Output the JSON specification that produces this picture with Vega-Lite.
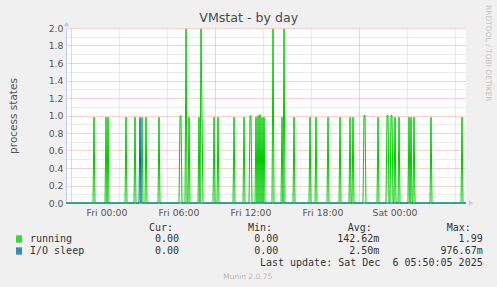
{
  "$schema": "https://vega.github.io/schema/vega-lite/v6.json",
  "width": 400,
  "height": 175,
  "autosize": "none",
  "padding": {"left": 66, "top": 28, "right": 31, "bottom": 84},
  "background": "#f0f0f0",
  "config": {"view": {"stroke": null, "fill": "#ffffff"}, "font": "DejaVu Sans", "line": {"strokeWidth": 1}},
  "data": {
    "values": [
      {"m": -205, "s": "running", "v": 0},
      {"m": -70, "s": "running", "v": 0},
      {"m": -65, "s": "running", "v": 0.98},
      {"m": -60, "s": "running", "v": 0},
      {"m": -10, "s": "running", "v": 0},
      {"m": -5, "s": "running", "v": 0.98},
      {"m": 0, "s": "running", "v": 0},
      {"m": 5, "s": "running", "v": 0.98},
      {"m": 10, "s": "running", "v": 0},
      {"m": 90, "s": "running", "v": 0},
      {"m": 95, "s": "running", "v": 0.98},
      {"m": 100, "s": "running", "v": 0},
      {"m": 135, "s": "running", "v": 0},
      {"m": 140, "s": "running", "v": 0.98},
      {"m": 145, "s": "running", "v": 0},
      {"m": 170, "s": "running", "v": 0},
      {"m": 175, "s": "running", "v": 0.98},
      {"m": 180, "s": "running", "v": 0},
      {"m": 190, "s": "running", "v": 0},
      {"m": 195, "s": "running", "v": 0.98},
      {"m": 200, "s": "running", "v": 0},
      {"m": 255, "s": "running", "v": 0},
      {"m": 260, "s": "running", "v": 0.98},
      {"m": 265, "s": "running", "v": 0},
      {"m": 360, "s": "running", "v": 0},
      {"m": 365, "s": "running", "v": 0.99},
      {"m": 370, "s": "running", "v": 1.0},
      {"m": 375, "s": "running", "v": 0},
      {"m": 390, "s": "running", "v": 0},
      {"m": 395, "s": "running", "v": 1.99},
      {"m": 400, "s": "running", "v": 0},
      {"m": 405, "s": "running", "v": 0},
      {"m": 410, "s": "running", "v": 0.98},
      {"m": 415, "s": "running", "v": 0},
      {"m": 455, "s": "running", "v": 0},
      {"m": 460, "s": "running", "v": 0.98},
      {"m": 465, "s": "running", "v": 0},
      {"m": 470, "s": "running", "v": 1.99},
      {"m": 475, "s": "running", "v": 1.0},
      {"m": 480, "s": "running", "v": 0},
      {"m": 530, "s": "running", "v": 0},
      {"m": 535, "s": "running", "v": 0.98},
      {"m": 540, "s": "running", "v": 0},
      {"m": 550, "s": "running", "v": 0},
      {"m": 555, "s": "running", "v": 0.98},
      {"m": 560, "s": "running", "v": 0},
      {"m": 630, "s": "running", "v": 0},
      {"m": 635, "s": "running", "v": 0.98},
      {"m": 640, "s": "running", "v": 0},
      {"m": 680, "s": "running", "v": 0},
      {"m": 685, "s": "running", "v": 0.98},
      {"m": 690, "s": "running", "v": 0},
      {"m": 710, "s": "running", "v": 0},
      {"m": 715, "s": "running", "v": 0.99},
      {"m": 720, "s": "running", "v": 1.0},
      {"m": 725, "s": "running", "v": 0},
      {"m": 740, "s": "running", "v": 0},
      {"m": 745, "s": "running", "v": 0.98},
      {"m": 750, "s": "running", "v": 0},
      {"m": 755, "s": "running", "v": 1.0},
      {"m": 760, "s": "running", "v": 0},
      {"m": 765, "s": "running", "v": 1.01},
      {"m": 770, "s": "running", "v": 0},
      {"m": 775, "s": "running", "v": 0.98},
      {"m": 780, "s": "running", "v": 0},
      {"m": 785, "s": "running", "v": 0.98},
      {"m": 790, "s": "running", "v": 0},
      {"m": 825, "s": "running", "v": 0},
      {"m": 830, "s": "running", "v": 1.99},
      {"m": 835, "s": "running", "v": 0},
      {"m": 870, "s": "running", "v": 0},
      {"m": 875, "s": "running", "v": 0.98},
      {"m": 880, "s": "running", "v": 0},
      {"m": 885, "s": "running", "v": 1.99},
      {"m": 890, "s": "running", "v": 0},
      {"m": 930, "s": "running", "v": 0},
      {"m": 935, "s": "running", "v": 0.98},
      {"m": 940, "s": "running", "v": 0},
      {"m": 1010, "s": "running", "v": 0},
      {"m": 1015, "s": "running", "v": 0.98},
      {"m": 1020, "s": "running", "v": 0},
      {"m": 1040, "s": "running", "v": 0},
      {"m": 1045, "s": "running", "v": 0.98},
      {"m": 1050, "s": "running", "v": 0},
      {"m": 1100, "s": "running", "v": 0},
      {"m": 1105, "s": "running", "v": 0.98},
      {"m": 1110, "s": "running", "v": 0},
      {"m": 1160, "s": "running", "v": 0},
      {"m": 1165, "s": "running", "v": 0.98},
      {"m": 1170, "s": "running", "v": 0},
      {"m": 1210, "s": "running", "v": 0},
      {"m": 1215, "s": "running", "v": 0.98},
      {"m": 1220, "s": "running", "v": 0},
      {"m": 1225, "s": "running", "v": 0},
      {"m": 1230, "s": "running", "v": 0.98},
      {"m": 1235, "s": "running", "v": 0},
      {"m": 1280, "s": "running", "v": 0},
      {"m": 1285, "s": "running", "v": 1.0},
      {"m": 1290, "s": "running", "v": 1.0},
      {"m": 1295, "s": "running", "v": 0},
      {"m": 1350, "s": "running", "v": 0},
      {"m": 1355, "s": "running", "v": 0.98},
      {"m": 1360, "s": "running", "v": 0},
      {"m": 1395, "s": "running", "v": 0},
      {"m": 1400, "s": "running", "v": 1.0},
      {"m": 1405, "s": "running", "v": 1.0},
      {"m": 1410, "s": "running", "v": 0},
      {"m": 1415, "s": "running", "v": 0},
      {"m": 1420, "s": "running", "v": 1.0},
      {"m": 1425, "s": "running", "v": 1.0},
      {"m": 1430, "s": "running", "v": 0},
      {"m": 1435, "s": "running", "v": 0},
      {"m": 1440, "s": "running", "v": 0.98},
      {"m": 1445, "s": "running", "v": 0},
      {"m": 1455, "s": "running", "v": 0},
      {"m": 1460, "s": "running", "v": 0.98},
      {"m": 1465, "s": "running", "v": 0},
      {"m": 1505, "s": "running", "v": 0},
      {"m": 1510, "s": "running", "v": 0.98},
      {"m": 1515, "s": "running", "v": 0},
      {"m": 1520, "s": "running", "v": 0.98},
      {"m": 1525, "s": "running", "v": 0},
      {"m": 1530, "s": "running", "v": 0},
      {"m": 1535, "s": "running", "v": 0.98},
      {"m": 1540, "s": "running", "v": 0},
      {"m": 1615, "s": "running", "v": 0},
      {"m": 1620, "s": "running", "v": 0.98},
      {"m": 1625, "s": "running", "v": 0},
      {"m": 1770, "s": "running", "v": 0},
      {"m": 1775, "s": "running", "v": 0.98},
      {"m": 1780, "s": "running", "v": 0},
      {"m": 1795, "s": "running", "v": 0},
      {"m": -205, "s": "I/O sleep", "v": 0},
      {"m": 160, "s": "I/O sleep", "v": 0},
      {"m": 165, "s": "I/O sleep", "v": 0.97667},
      {"m": 170, "s": "I/O sleep", "v": 0},
      {"m": 1795, "s": "I/O sleep", "v": 0}
    ]
  },
  "layer": [
    {
      "transform": [{"filter": "datum.s === 'running'"}],
      "mark": {"type": "line"},
      "encoding": {
        "x": {
          "field": "m",
          "type": "quantitative",
          "scale": {"domain": [-205, 1795], "nice": false, "zero": false},
          "axis": {
            "title": null,
            "orient": "bottom",
            "values": [-180, -120, -60, 0, 60, 120, 180, 240, 300, 360, 420, 480, 540, 600, 660, 720, 780, 840, 900, 960, 1020, 1080, 1140, 1200, 1260, 1320, 1380, 1440, 1500, 1560, 1620, 1680, 1740],
            "labels": false,
            "ticks": false,
            "domain": false,
            "grid": true,
            "gridColor": {"condition": {"test": "datum.value % 180 == 0", "value": "#e6a3a3"}, "value": "#d4d4d4"},
            "gridDash": [1, 1],
            "gridOpacity": 1
          }
        },
        "y": {
          "field": "v",
          "type": "quantitative",
          "scale": {"domain": [0, 2], "nice": false},
          "axis": {
            "title": "process states",
            "titleFont": "DejaVu Sans",
            "titleFontSize": 10.5,
            "titleFontWeight": "normal",
            "titleColor": "#555555",
            "titlePadding": 30,
            "tickCount": 20,
            "labelExpr": "round(datum.value * 10) % 2 == 0 ? format(datum.value, '.1f') : ''",
            "labelFont": "DejaVu Sans",
            "labelFontSize": 9.3,
            "labelColor": "#555555",
            "labelPadding": 3,
            "labelOverlap": false,
            "labelFlush": false,
            "ticks": false,
            "domain": true,
            "domainColor": "#c4c8ee",
            "domainWidth": 1,
            "grid": true,
            "gridColor": {"condition": {"test": "round(datum.value * 10) % 2 == 0", "value": "#e6a3a3"}, "value": "#d4d4d4"},
            "gridDash": [1, 1],
            "gridOpacity": 1
          }
        },
        "color": {
          "field": "s",
          "type": "nominal",
          "scale": {"domain": ["running", "I/O sleep"], "range": ["#00cc00", "#0066b3"]},
          "legend": {
            "orient": "none",
            "legendX": -52,
            "legendY": 206,
            "title": null,
            "padding": 0,
            "symbolType": "M-1,-1H1M-1,-0.667H1M-1,-0.333H1M-1,0H1M-1,0.333H1M-1,0.667H1M-1,1H1",
            "symbolSize": 36,
            "symbolStrokeWidth": 1.2,
            "labelFont": "DejaVu Sans Mono",
            "labelFontSize": 10,
            "labelColor": "#333333",
            "labelOffset": 6,
            "rowPadding": 2
          }
        }
      }
    },
    {
      "transform": [{"filter": "datum.s === 'I/O sleep'"}],
      "mark": {"type": "line"},
      "encoding": {
        "x": {"field": "m", "type": "quantitative"},
        "y": {"field": "v", "type": "quantitative"},
        "color": {"field": "s", "type": "nominal"}
      }
    },
    {
      "data": {
        "values": [
          {"m": 0, "label": "Fri 00:00"},
          {"m": 360, "label": "Fri 06:00"},
          {"m": 720, "label": "Fri 12:00"},
          {"m": 1080, "label": "Fri 18:00"},
          {"m": 1440, "label": "Sat 00:00"}
        ]
      },
      "mark": {"type": "text", "align": "center", "baseline": "alphabetic", "font": "DejaVu Sans", "fontSize": 9.3, "color": "#555555"},
      "encoding": {
        "x": {"field": "m", "type": "quantitative"},
        "y": {"datum": -0.1451, "type": "quantitative"},
        "text": {"field": "label"}
      }
    },
    {
      "data": {"values": [{}]},
      "mark": {"type": "point", "shape": "triangle-up", "filled": true, "size": 28, "color": "#c4c8ee", "opacity": 1},
      "encoding": {
        "x": {"datum": -202.5, "type": "quantitative"},
        "y": {"datum": 2.045, "type": "quantitative"}
      }
    },
    {
      "data": {"values": [{}]},
      "mark": {"type": "point", "shape": "triangle-right", "filled": true, "size": 28, "color": "#c4c8ee", "opacity": 1},
      "encoding": {
        "x": {"datum": 1820, "type": "quantitative"},
        "y": {"datum": 0, "type": "quantitative"}
      }
    },
    {
      "data": {"values": [{"label": "VMstat - by day"}]},
      "mark": {"type": "text", "align": "center", "baseline": "alphabetic", "font": "DejaVu Sans", "fontSize": 12.6, "color": "#4a4a4a"},
      "encoding": {
        "x": {"datum": 708.5, "type": "quantitative"},
        "y": {"datum": 2.063, "type": "quantitative"},
        "text": {"field": "label"}
      }
    },
    {
      "data": {"values": [{"label": "Munin 2.0.75"}]},
      "mark": {"type": "text", "align": "center", "baseline": "alphabetic", "font": "DejaVu Sans", "fontSize": 7.5, "color": "#b8b8b8"},
      "encoding": {
        "x": {"datum": 703.5, "type": "quantitative"},
        "y": {"datum": -0.863, "type": "quantitative"},
        "text": {"field": "label"}
      }
    },
    {
      "data": {"values": [{"label": "RRDTOOL / TOBI OETIKER"}]},
      "mark": {"type": "text", "align": "center", "baseline": "middle", "angle": 90, "font": "DejaVu Sans", "fontSize": 7.5, "color": "#c4c4c4"},
      "encoding": {
        "x": {"datum": 1905, "type": "quantitative"},
        "y": {"datum": 1.711, "type": "quantitative"},
        "text": {"field": "label"}
      }
    },
    {
      "data": {"values": [{"label": "Cur:"}]},
      "mark": {"type": "text", "align": "left", "baseline": "alphabetic", "font": "DejaVu Sans Mono", "fontSize": 10, "color": "#333333"},
      "encoding": {
        "x": {"datum": 210, "type": "quantitative"},
        "y": {"datum": -0.3143, "type": "quantitative"},
        "text": {"field": "label"}
      }
    },
    {
      "data": {"values": [{"label": "Min:"}]},
      "mark": {"type": "text", "align": "left", "baseline": "alphabetic", "font": "DejaVu Sans Mono", "fontSize": 10, "color": "#333333"},
      "encoding": {
        "x": {"datum": 705, "type": "quantitative"},
        "y": {"datum": -0.3143, "type": "quantitative"},
        "text": {"field": "label"}
      }
    },
    {
      "data": {"values": [{"label": "Avg:"}]},
      "mark": {"type": "text", "align": "left", "baseline": "alphabetic", "font": "DejaVu Sans Mono", "fontSize": 10, "color": "#333333"},
      "encoding": {
        "x": {"datum": 1203.5, "type": "quantitative"},
        "y": {"datum": -0.3143, "type": "quantitative"},
        "text": {"field": "label"}
      }
    },
    {
      "data": {"values": [{"label": "Max:"}]},
      "mark": {"type": "text", "align": "left", "baseline": "alphabetic", "font": "DejaVu Sans Mono", "fontSize": 10, "color": "#333333"},
      "encoding": {
        "x": {"datum": 1698.5, "type": "quantitative"},
        "y": {"datum": -0.3143, "type": "quantitative"},
        "text": {"field": "label"}
      }
    },
    {
      "data": {"values": [{"lines": ["0.00", "0.00"]}]},
      "mark": {"type": "text", "align": "right", "baseline": "alphabetic", "font": "DejaVu Sans Mono", "fontSize": 10, "lineHeight": 11.9, "color": "#333333"},
      "encoding": {
        "x": {"datum": 360, "type": "quantitative"},
        "y": {"datum": -0.4503, "type": "quantitative"},
        "text": {"field": "lines"}
      }
    },
    {
      "data": {"values": [{"lines": ["0.00", "0.00"]}]},
      "mark": {"type": "text", "align": "right", "baseline": "alphabetic", "font": "DejaVu Sans Mono", "fontSize": 10, "lineHeight": 11.9, "color": "#333333"},
      "encoding": {
        "x": {"datum": 856.5, "type": "quantitative"},
        "y": {"datum": -0.4503, "type": "quantitative"},
        "text": {"field": "lines"}
      }
    },
    {
      "data": {"values": [{"lines": ["142.62m", "2.50m"]}]},
      "mark": {"type": "text", "align": "right", "baseline": "alphabetic", "font": "DejaVu Sans Mono", "fontSize": 10, "lineHeight": 11.9, "color": "#333333"},
      "encoding": {
        "x": {"datum": 1361.5, "type": "quantitative"},
        "y": {"datum": -0.4503, "type": "quantitative"},
        "text": {"field": "lines"}
      }
    },
    {
      "data": {"values": [{"lines": ["1.99", "976.67m", "Last update: Sat Dec \u00a06 05:50:05 2025"]}]},
      "mark": {"type": "text", "align": "right", "baseline": "alphabetic", "font": "DejaVu Sans Mono", "fontSize": 10, "lineHeight": 11.9, "color": "#333333"},
      "encoding": {
        "x": {"datum": 1878.5, "type": "quantitative"},
        "y": {"datum": -0.4503, "type": "quantitative"},
        "text": {"field": "lines"}
      }
    }
  ]
}
